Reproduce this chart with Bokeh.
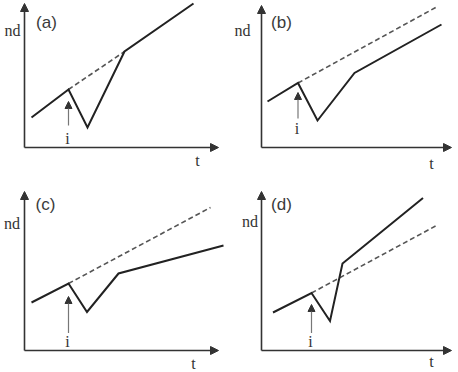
from bokeh.plotting import figure
from bokeh.layouts import gridplot
from bokeh.models import Range1d, Arrow, NormalHead, Label
from bokeh.embed import file_html
from bokeh.resources import INLINE

# ---- data (arbitrary units: t horizontal, nd vertical) ----
panel_names = ["(a)", "(b)", "(c)", "(d)"]

a_t = [0.7, 4.4, 6.3, 10.0, 16.9]
a_nd = [3.0, 5.8, 2.0, 9.6, 14.4]
a_dash_t = [4.4, 10.0]
a_dash_nd = [5.8, 9.6]
a_event_nd = [2.2, 4.6]

b_t = [0.6, 3.65, 5.6, 9.3, 18.0]
b_nd = [4.6, 6.45, 2.7, 7.45, 12.3]
b_dash_t = [3.65, 17.6]
b_dash_nd = [6.45, 14.1]
b_event_nd = [2.9, 5.5]

c_t = [0.7, 4.4, 6.25, 9.4, 19.9]
c_nd = [4.8, 6.7, 3.85, 7.7, 10.5]
c_dash_t = [4.4, 18.6]
c_dash_nd = [6.7, 14.3]
c_event_nd = [1.75, 5.4]

d_t = [1.15, 5.0, 6.85, 8.1, 16.15]
d_nd = [3.8, 5.75, 2.95, 8.7, 15.25]
d_dash_t = [5.0, 17.5]
d_dash_nd = [5.75, 12.5]
d_event_nd = [1.75, 4.6]

event_label = "i"
x_label = "t"
y_label = "nd"

# ---- layout / style (pixels in each 229x186 cell) ----
W, H = 229, 186
S = 10.0  # pixels per unit
cells = [
    dict(ox=24, oy=147, xmax=19.4, ymax=14.4, ylab=(-1.2, 11.7), tag=(2.2, 12.5), xlab=(17.3, -1.3), ilab=(4.3, 0.95)),
    dict(ox=32, oy=147, xmax=19.0, ymax=14.2, ylab=(-1.9, 11.7), tag=(2.0, 12.5), xlab=(17.0, -1.6), ilab=(3.55, 1.9)),
    dict(ox=24, oy=164, xmax=19.4, ymax=15.9, ylab=(-1.25, 12.75), tag=(2.1, 14.6), xlab=(16.9, -1.25), ilab=(4.3, 0.9)),
    dict(ox=32, oy=164, xmax=19.0, ymax=15.9, ylab=(-1.15, 12.9), tag=(2.0, 14.6), xlab=(17.0, -1.05), ilab=(4.9, 0.95)),
]
series = [
    (a_t, a_nd, a_dash_t, a_dash_nd, a_event_nd),
    (b_t, b_nd, b_dash_t, b_dash_nd, b_event_nd),
    (c_t, c_nd, c_dash_t, c_dash_nd, c_event_nd),
    (d_t, d_nd, d_dash_t, d_dash_nd, d_event_nd),
]

LINE = "#222222"
AXIS = "#333333"
TEXT = "#333333"
SERIF = "Liberation Serif"
SANS = "Liberation Sans"

figs = []
for name, cell, (st, snd, dt, dnd, ev) in zip(panel_names, cells, series):
    ox, oy = cell["ox"], cell["oy"]
    p = figure(width=W, height=H, output_backend="svg", toolbar_location=None,
               x_axis_type=None, y_axis_type=None,
               x_range=Range1d(-ox / S, (W - ox) / S),
               y_range=Range1d(-(H - oy) / S, oy / S),
               min_border=0, outline_line_color=None,
               background_fill_color="white", border_fill_color="white")
    p.grid.visible = False

    # axes with arrowheads
    p.add_layout(Arrow(end=NormalHead(size=8, fill_color=AXIS, line_color=AXIS, line_width=1),
                       x_start=0, y_start=0, x_end=cell["xmax"], y_end=0,
                       line_color=AXIS, line_width=1.6))
    p.add_layout(Arrow(end=NormalHead(size=8, fill_color=AXIS, line_color=AXIS, line_width=1),
                       x_start=0, y_start=0, x_end=0, y_end=cell["ymax"],
                       line_color=AXIS, line_width=1.6))

    # dashed extrapolation
    p.line(dt, dnd, line_color="#555555", line_width=1.6, line_dash="5 3")
    # solid response
    p.line(st, snd, line_color=LINE, line_width=2, line_join="miter")

    # event arrow at the peak
    p.add_layout(Arrow(end=NormalHead(size=7, fill_color="#333333", line_color="#333333", line_width=1),
                       x_start=st[1], y_start=ev[0], x_end=st[1], y_end=ev[1],
                       line_color="#777777", line_width=1.2))

    p.add_layout(Label(x=cell["ilab"][0], y=cell["ilab"][1], text=event_label,
                       text_font=SERIF, text_font_size="16px", text_color=TEXT,
                       text_align="center", text_baseline="middle"))
    p.add_layout(Label(x=cell["ylab"][0], y=cell["ylab"][1], text=y_label,
                       text_font=SERIF, text_font_size="16px", text_color=TEXT,
                       text_align="center", text_baseline="middle"))
    p.add_layout(Label(x=cell["xlab"][0], y=cell["xlab"][1], text=x_label,
                       text_font=SERIF, text_font_size="16px", text_color=TEXT,
                       text_align="center", text_baseline="middle"))
    p.add_layout(Label(x=cell["tag"][0], y=cell["tag"][1], text=name,
                       text_font=SANS, text_font_size="17px", text_color="#3a3a3a",
                       text_align="center", text_baseline="middle"))
    figs.append(p)

grid = gridplot([[figs[0], figs[1]], [figs[2], figs[3]]], toolbar_location=None)
open("out.html", "w").write(file_html(grid, INLINE))
